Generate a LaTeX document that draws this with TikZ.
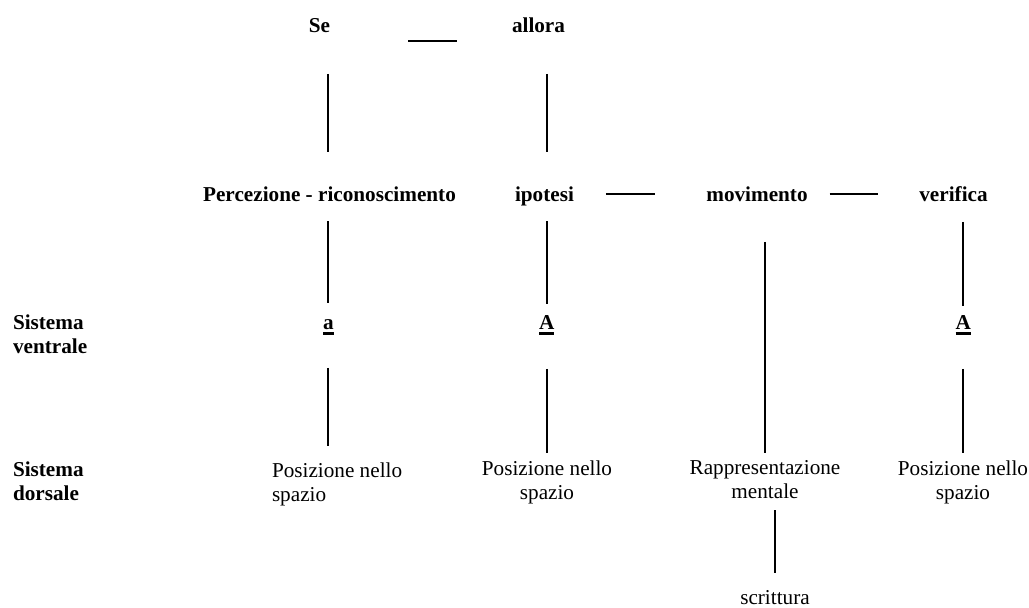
\documentclass[tikz,border=0pt]{standalone}
\usepackage{fontspec}
\setmainfont{Liberation Serif}
\newcommand{\thickbar}[1]{\setbox0\hbox{#1}\leavevmode\rlap{\raisebox{-2.4pt}{\rule{\wd0}{1.3pt}}}\box0}
\begin{document}
\begin{tikzpicture}[x=0.5pt, y=-0.5pt, line width=1pt,
	font=\fontsize{10.6pt}{12pt}\selectfont,
	every node/.style={inner sep=0pt},
	head/.style={font=\fontsize{10.6pt}{12pt}\selectfont\bfseries, anchor=base},
	side/.style={font=\fontsize{10.6pt}{12pt}\selectfont\bfseries, align=left, anchor=north west},
	place/.style={align=center, anchor=north},
	gap/.style 2 args={shorten <=#1, shorten >=#2}]
	\useasboundingbox (0,0) rectangle (1029,608);
	\node[head] (se) at (319.5,33) {Se};
	\node[head] (allora) at (538.5,33) {allora};
	\node[head] (perc) at (329.5,202) {Percezione - riconoscimento};
	\node[head] (ipotesi) at (544.5,202) {ipotesi};
	\node[head] (movimento) at (757,202) {movimento};
	\node[head] (verifica) at (953.5,202) {verifica};
	\node[head] (a1) at (328.4,330) {\thickbar{a}};
	\node[head] (A2) at (546.7,330) {\thickbar{A}};
	\node[head] (A3) at (963.3,330) {\thickbar{A}};
	\node[side] (ventrale) at (12,313.4) {Sistema\\ventrale};
	\node[side] (dorsale) at (12,460.4) {Sistema\\dorsale};
	\node[place, anchor=north west, align=left] (pos1) at (271,461.5) {Posizione nello\\spazio};
	\node[place] (pos2) at (547,459.5) {Posizione nello\\spazio};
	\node[place] (rapp) at (765,459.5) {Rappresentazione\\mentale};
	\node[place] (pos4) at (963,459.5) {Posizione nello\\spazio};
	\node[anchor=base] (scrittura) at (775,605) {scrittura};
	% horizontal links
	\draw[gap={38.5pt}{27pt}] ([yshift=-4pt]se.base east) -- ([yshift=-4pt]allora.base west);
	\draw[gap={15.5pt}{25pt}] ([yshift=3.85pt]ipotesi.base east) -- ([yshift=3.85pt]movimento.base west);
	\draw[gap={10.5pt}{20pt}] ([yshift=3.85pt]movimento.base east) -- ([yshift=3.85pt]verifica.base west);
	% vertical links
	\draw[gap={19.8pt}{17.2pt}] (se.south -| a1) -- (perc.north -| a1);
	\draw[gap={19.8pt}{17.2pt}] (allora.south -| A2) -- (ipotesi.north -| A2);
	\draw[gap={8.9pt}{7.9pt}] (perc.south -| a1) -- (a1.north);
	\draw[gap={6.8pt}{5.7pt}] (ipotesi.south -| A2) -- (A2.north);
	\draw[gap={9.3pt}{4.7pt}] (verifica.south -| A3) -- (A3.north);
	\draw[gap={19.3pt}{3.2pt}] (movimento.south -| rapp) -- (rapp.north);
	\draw[gap={16.1pt}{7.7pt}] (a1.south) -- (pos1.north -| a1);
	\draw[gap={16.6pt}{3.2pt}] (A2.south) -- (pos2.north -| A2);
	\draw[gap={16.6pt}{3.2pt}] (A3.south) -- (pos4.north -| A3);
	\draw[gap={5.3pt}{8.5pt}] (rapp.south -| scrittura) -- (scrittura.north);
\end{tikzpicture}
\end{document}
